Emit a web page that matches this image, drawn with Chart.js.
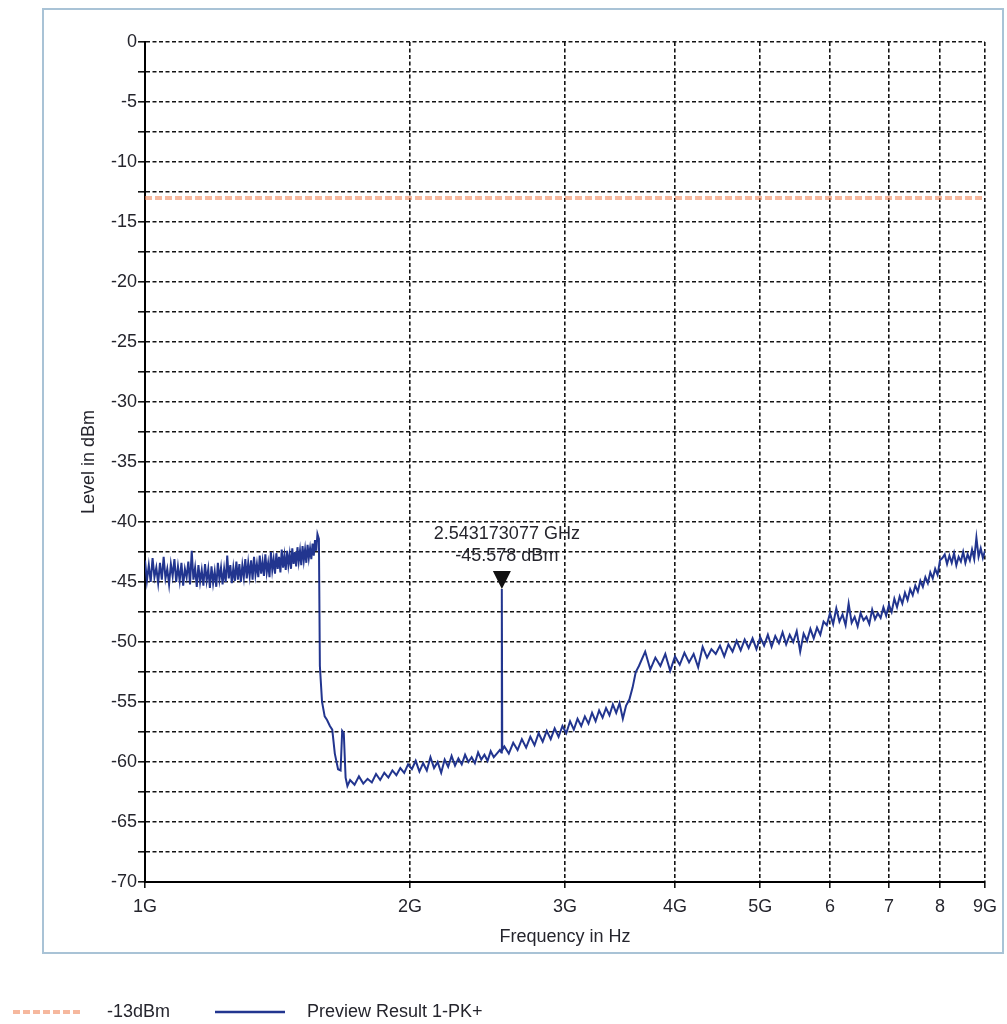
<!DOCTYPE html>
<html>
<head>
<meta charset="utf-8">
<script src="https://cdn.jsdelivr.net/npm/chart.js@4.4.0/dist/chart.umd.min.js"></script>
<style>
body { margin: 0; background: #fff; }
canvas { display: block; }
</style>
</head>
<body>
<canvas id="myChart" width="1007" height="1024"></canvas>
<script>
// sweep points (GHz / dBm)
const freq_ghz = [
    1.000,1.005,1.010,1.015,1.020,1.025,1.030,1.035,1.040,1.045,
    1.050,1.055,1.060,1.065,1.070,1.075,1.080,1.085,1.090,1.095,
    1.100,1.105,1.110,1.115,1.120,1.125,1.130,1.135,1.140,1.145,
    1.150,1.155,1.160,1.165,1.170,1.175,1.180,1.185,1.190,1.195,
    1.200,1.205,1.210,1.215,1.220,1.225,1.230,1.235,1.240,1.245,
    1.250,1.255,1.260,1.265,1.270,1.275,1.280,1.285,1.290,1.295,
    1.300,1.305,1.310,1.315,1.320,1.325,1.330,1.335,1.340,1.345,
    1.350,1.355,1.360,1.365,1.370,1.375,1.380,1.385,1.390,1.395,
    1.400,1.405,1.410,1.415,1.420,1.425,1.430,1.435,1.440,1.445,
    1.450,1.455,1.460,1.465,1.470,1.475,1.480,1.485,1.490,1.495,
    1.500,1.505,1.510,1.515,1.520,1.525,1.530,1.535,1.540,1.545,
    1.550,1.555,1.560,1.565,1.570,
    1.576,1.580,1.589,1.600,1.610,1.622,1.632,1.643,1.657,1.668,1.675,1.682,1.690,1.698,
    1.71,1.73,1.75,1.77,1.79,1.81,1.83,1.85,1.87,1.89,
    1.91,1.93,1.95,1.97,1.99,2.01,2.03,2.05,2.07,2.09,
    2.11,2.13,2.15,2.17,2.19,2.21,2.23,2.25,2.27,2.29,
    2.31,2.33,2.35,2.37,2.39,2.41,2.43,2.45,2.47,2.49,
    2.51,2.53,2.540,2.543,2.546,
    2.56,2.59,2.62,2.65,2.68,2.71,2.74,2.77,2.80,2.83,
    2.86,2.89,2.92,2.95,2.98,3.01,3.04,3.07,3.10,3.13,
    3.16,3.19,3.22,3.25,3.28,3.31,3.34,3.37,3.40,3.43,
    3.46,3.49,3.52,3.55,3.58,3.61,3.64,
    3.70,3.75,3.80,3.85,3.90,3.95,4.00,4.05,4.10,4.15,
    4.20,4.25,4.30,4.35,4.40,4.45,4.50,4.55,4.60,4.65,
    4.70,4.75,4.80,4.85,4.90,4.95,5.00,5.05,5.10,5.15,
    5.20,5.25,5.30,5.35,5.40,5.45,5.50,5.55,5.60,5.65,
    5.70,5.75,5.80,5.85,5.90,5.95,6.00,6.05,6.10,6.15,
    6.20,6.25,6.30,6.35,6.40,6.45,6.50,6.55,6.60,6.65,
    6.70,6.75,6.80,6.85,6.90,6.95,7.00,7.05,7.10,7.15,
    7.20,7.25,7.30,7.35,7.40,7.45,7.50,7.55,7.60,7.65,
    7.70,7.75,7.80,7.85,7.90,7.95,8.00,8.05,8.10,8.15,
    8.20,8.25,8.30,8.35,8.40,8.45,8.50,8.55,8.60,8.65,
    8.70,8.75,8.80,8.85,8.90,8.95,9.00
]
const level_dbm = [
    -43.2,-44.9,-43.6,-45.0,-43.0,-44.6,-43.8,-45.1,-43.4,-44.8,
    -42.9,-44.7,-43.9,-45.2,-43.5,-44.5,-43.1,-45.0,-43.7,-44.9,
    -43.4,-45.3,-43.9,-44.6,-43.3,-45.2,-42.4,-44.8,-43.8,-45.4,
    -43.6,-45.0,-44.0,-45.3,-43.5,-44.9,-43.9,-45.5,-43.7,-45.1,
    -44.1,-45.4,-43.4,-44.8,-43.8,-45.2,-43.9,-45.0,-42.8,-44.7,
    -43.6,-45.1,-43.8,-44.9,-43.3,-44.8,-43.5,-45.0,-43.6,-44.6,
    -43.1,-44.7,-43.4,-44.5,-43.2,-44.8,-42.9,-44.4,-43.5,-44.6,
    -42.8,-44.3,-43.3,-44.5,-42.7,-44.2,-43.4,-44.6,-42.5,-44.0,
    -43.1,-44.3,-42.6,-43.9,-42.9,-44.2,-42.3,-43.8,-42.8,-44.0,
    -42.4,-43.6,-42.7,-43.9,-42.2,-43.5,-42.5,-43.7,-42.1,-43.3,
    -42.4,-43.6,-42.0,-43.2,-42.3,-43.4,-41.9,-43.0,-42.2,-43.1,
    -41.8,-42.8,-41.5,-42.4,-41.0,
    -41.4,-52.0,-55.0,-56.2,-56.5,-57.0,-57.3,-59.3,-60.6,-60.7,-57.4,-57.6,-61.3,-62.0,
    -61.5,-61.9,-61.2,-61.8,-61.4,-61.7,-61.0,-61.5,-60.9,-61.3,
    -60.7,-61.1,-60.5,-60.9,-60.2,-60.6,-59.9,-60.8,-60.1,-60.7,
    -59.6,-60.5,-60.0,-60.9,-59.8,-60.4,-59.5,-60.3,-59.7,-60.2,
    -59.4,-60.0,-59.6,-60.1,-59.2,-59.8,-59.4,-59.9,-59.1,-59.6,
    -59.3,-59.0,-59.2,-45.578,-59.0,
    -58.7,-59.3,-58.4,-59.0,-58.1,-58.8,-57.9,-58.6,-57.6,-58.3,
    -57.4,-58.1,-57.2,-57.9,-57.0,-57.6,-56.6,-57.3,-56.4,-57.0,
    -56.2,-56.8,-55.9,-56.6,-55.7,-56.3,-55.5,-56.1,-55.2,-55.9,
    -55.1,-56.4,-55.3,-54.8,-53.8,-52.5,-52.0,
    -50.8,-52.3,-51.3,-52.0,-51.0,-52.4,-51.2,-51.9,-50.9,-51.7,
    -51.0,-52.1,-50.4,-51.3,-50.6,-51.0,-50.3,-51.2,-50.2,-50.8,
    -49.9,-50.7,-49.8,-50.5,-49.7,-50.6,-49.6,-50.3,-49.4,-50.4,
    -49.5,-50.1,-49.2,-50.2,-49.4,-50.0,-49.1,-50.8,-49.3,-49.9,
    -48.9,-49.7,-48.8,-49.4,-48.3,-48.6,-47.6,-48.5,-47.2,-48.3,
    -47.7,-48.6,-46.8,-48.4,-47.9,-48.7,-47.6,-48.2,-47.9,-48.5,
    -47.3,-48.1,-47.6,-48.0,-47.1,-47.8,-46.9,-47.5,-46.4,-47.1,
    -46.2,-46.8,-45.9,-46.5,-45.6,-46.1,-45.3,-45.8,-44.9,-45.4,
    -44.6,-45.1,-44.2,-44.7,-43.9,-44.4,-43.2,-43.0,-42.7,-43.5,
    -42.8,-43.4,-42.6,-43.6,-42.9,-43.3,-42.5,-43.4,-42.7,-43.2,
    -42.3,-43.1,-41.3,-42.9,-42.2,-43.0,-42.4
]
const limit_freq = [1, 9]
const limit_level = [-13, -13]
const x_tick_values = [1, 2, 3, 4, 5, 6, 7, 8, 9]
const x_tick_labels = ['1G', '2G', '3G', '4G', '5G', '6', '7', '8', '9G']
const marker_freq = 2.543173077
const marker_level = -45.578
const series_names = ['-13dBm', 'Preview Result 1-PK+']
const axis_titles = ['Frequency in Hz', 'Level in dBm']

const FONT = "'Liberation Sans', Arial, sans-serif"
const TEXT_COLOR = '#25252d'
const TRACE_COLOR = '#22358f'
const LIMIT_COLOR = 'rgba(240,132,88,0.58)'
const GRID_COLOR = '#141414'

let trace_points = freq_ghz.map((f, i) => ({x: f, y: level_dbm[i]}))
let limit_points = limit_freq.map((f, i) => ({x: f, y: limit_level[i]}))

const frame_plugin = {
    id: 'frame',
    beforeDraw(chart) {
        const ctx = chart.ctx
        ctx.save()
        ctx.fillStyle = '#fff'
        ctx.fillRect(0, 0, chart.width, chart.height)
        ctx.strokeStyle = '#a9c3d6'
        ctx.lineWidth = 2
        ctx.strokeRect(43, 9, 960, 944)
        ctx.restore()
    }
}

const marker_plugin = {
    id: 'marker',
    afterDatasetsDraw(chart) {
        const ctx = chart.ctx
        let x = chart.scales.x.getPixelForValue(marker_freq)
        let y = chart.scales.y.getPixelForValue(marker_level)
        ctx.save()
        ctx.fillStyle = '#111'
        ctx.beginPath()
        ctx.moveTo(x - 9, y - 18)
        ctx.lineTo(x + 9, y - 18)
        ctx.lineTo(x, y)
        ctx.closePath()
        ctx.fill()
        ctx.font = `18px ${FONT}`
        ctx.fillStyle = TEXT_COLOR
        ctx.textAlign = 'center'
        ctx.textBaseline = 'middle'
        ctx.fillText(`${marker_freq.toFixed(9)} GHz`, x + 5, y - 55)
        ctx.fillText(`${marker_level} dBm`, x + 5, y - 33)
        ctx.restore()
    }
}

const legend_plugin = {
    id: 'bottom_legend',
    afterDraw(chart) {
        const ctx = chart.ctx
        const ds = chart.data.datasets
        let y = 1012
        ctx.save()
        ctx.strokeStyle = LIMIT_COLOR
        ctx.lineWidth = 4
        ctx.setLineDash([7, 3])
        ctx.beginPath()
        ctx.moveTo(13, y)
        ctx.lineTo(80, y)
        ctx.stroke()
        ctx.setLineDash([])
        ctx.strokeStyle = TRACE_COLOR
        ctx.lineWidth = 2.5
        ctx.beginPath()
        ctx.moveTo(215, y)
        ctx.lineTo(285, y)
        ctx.stroke()
        ctx.font = `18px ${FONT}`
        ctx.fillStyle = TEXT_COLOR
        ctx.textBaseline = 'middle'
        ctx.fillText(ds[0].label, 107, y)
        ctx.fillText(ds[1].label, 307, y)
        ctx.restore()
    }
}

let tick_font = {family: FONT, size: 18}

let config = {
    type: 'line',
    data: {
        datasets: [{
            label: series_names[0],
            data: limit_points,
            borderColor: LIMIT_COLOR,
            borderWidth: 4,
            borderDash: [7, 3],
            pointRadius: 0
        }, {
            label: series_names[1],
            data: trace_points,
            borderColor: TRACE_COLOR,
            borderWidth: 2,
            pointRadius: 0,
            tension: 0
        }]
    },
    options: {
        responsive: false,
        animation: false,
        devicePixelRatio: 1,
        layout: {padding: {left: 75, right: 22, top: 42, bottom: 71}},
        plugins: {legend: {display: false}, tooltip: {enabled: false}},
        scales: {
            x: {
                type: 'logarithmic',
                min: 1,
                max: 9,
                afterBuildTicks: scale => { scale.ticks = x_tick_values.map(v => ({value: v})) },
                afterFit: scale => { scale.height = 71 },
                ticks: {
                    autoSkip: false, maxRotation: 0, padding: 8,
                    color: TEXT_COLOR, font: tick_font,
                    callback: (v, i) => x_tick_labels[i]
                },
                grid: {color: GRID_COLOR, lineWidth: 1.6, tickLength: 6, tickColor: GRID_COLOR, tickBorderDash: []},
                border: {color: '#000', width: 2, dash: [4, 2.5]},
                title: {display: true, text: axis_titles[0], color: TEXT_COLOR, font: tick_font, padding: {top: 0, bottom: 5}}
            },
            y: {
                min: -70,
                max: 0,
                afterFit: scale => { scale.width = 70 },
                ticks: {
                    stepSize: 2.5, autoSkip: false, padding: 1,
                    color: TEXT_COLOR, font: tick_font,
                    callback: v => v % 5 === 0 ? String(v) : ''
                },
                grid: {color: GRID_COLOR, lineWidth: 1.6, tickLength: 7, tickColor: GRID_COLOR, tickBorderDash: []},
                border: {color: '#000', width: 2, dash: [4, 2.5]},
                title: {display: true, text: axis_titles[1], color: TEXT_COLOR, font: tick_font, padding: {top: 3, bottom: 0}}
            }
        }
    },
    plugins: [frame_plugin, marker_plugin, legend_plugin]
}

let myChart = new Chart(document.getElementById('myChart'), config)
</script>
</body>
</html>
